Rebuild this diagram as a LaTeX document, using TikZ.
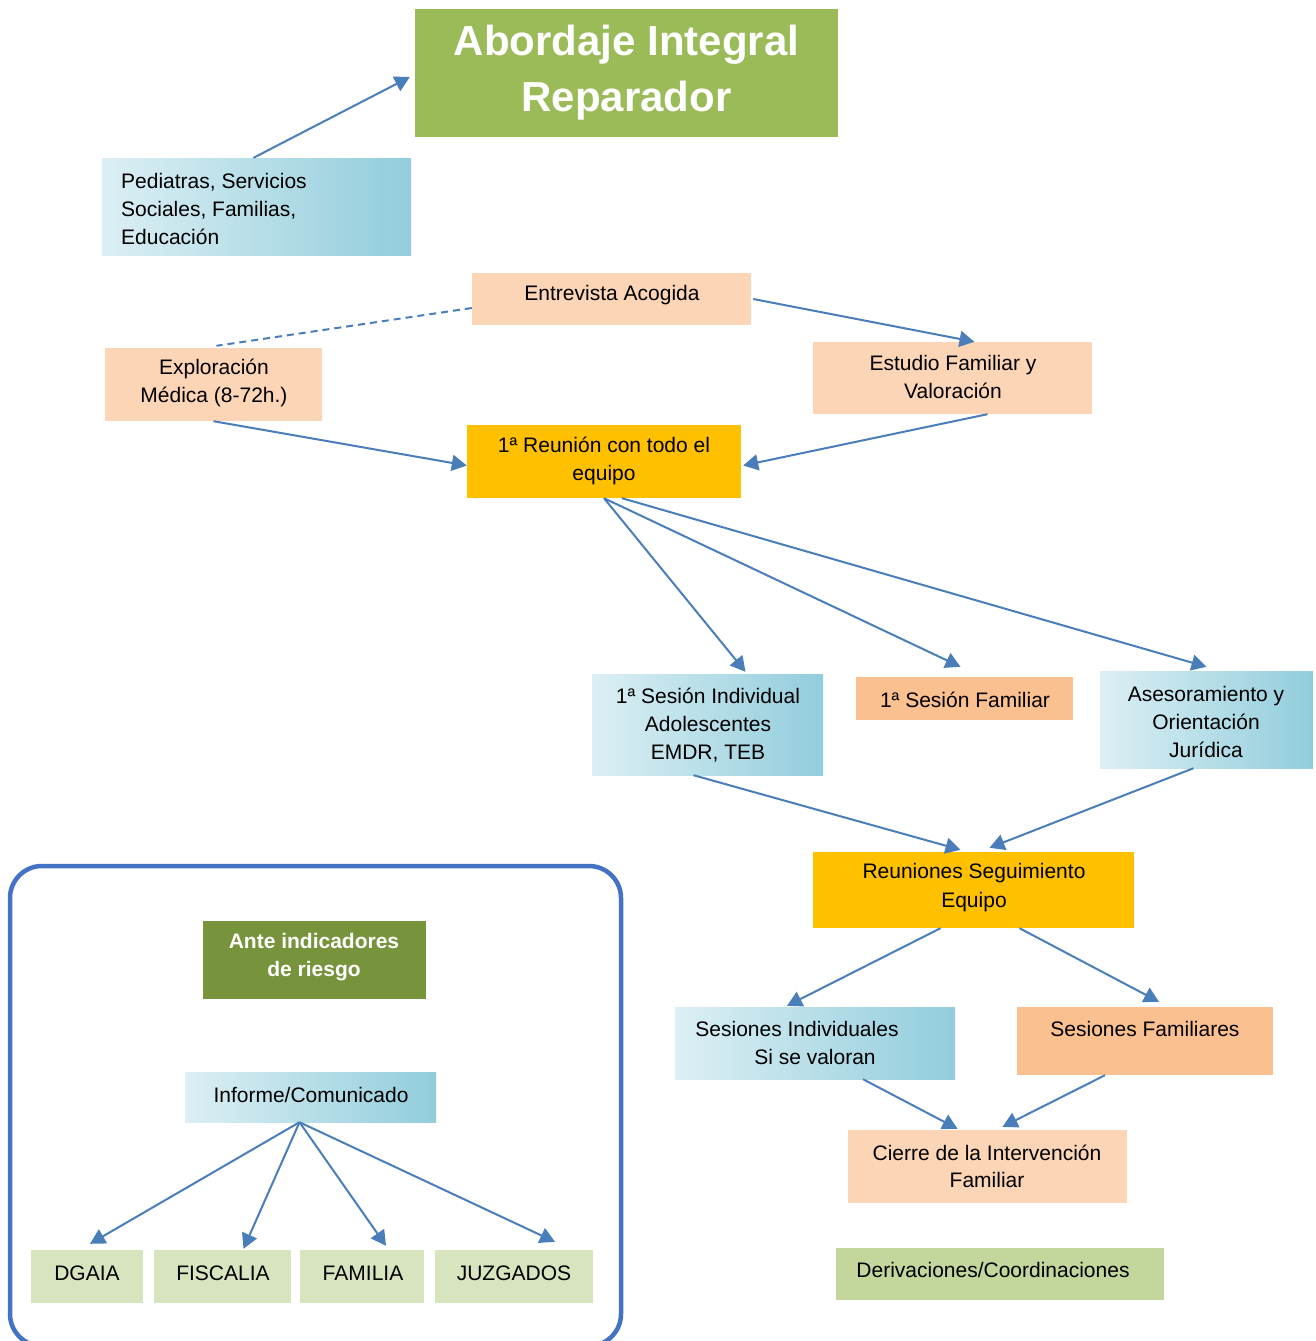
\documentclass[tikz,border=0pt]{standalone}
\usepackage{fontspec}
\setmainfont{Liberation Sans}
\usetikzlibrary{arrows.meta,calc}
\definecolor{titlegreen}{HTML}{9BBB59}
\definecolor{peachlight}{HTML}{FBD5B5}
\definecolor{peachdark}{HTML}{FAC090}
\definecolor{gold}{HTML}{FFC000}
\definecolor{darkgreen}{HTML}{77933C}
\definecolor{lightgreen}{HTML}{D7E4BD}
\definecolor{midgreen}{HTML}{C3D69B}
\definecolor{gradL}{HTML}{DCEFF4}
\definecolor{gradR}{HTML}{92CDDC}
\definecolor{arrowblue}{HTML}{4A7EBB}
\definecolor{framecol}{HTML}{4472C4}
\tikzset{
  box/.style={rectangle, draw=none, inner sep=0pt},
  boxpeach/.style={box, fill=peachlight},
  boxorange/.style={box, fill=peachdark},
  boxgold/.style={box, fill=gold},
  boxgrad/.style={box, shading=axis, shading angle=75, left color=gradL, right color=gradR},
  boxlgreen/.style={box, fill=lightgreen},
  txt/.style={inner sep=0pt, align=center, font=\fontsize{21}{28}\selectfont},
  conn/.style={draw=arrowblue, line width=2pt, -{Triangle[length=15pt,width=16pt]}},
  dashconn/.style={draw=arrowblue, line width=2pt, dashed, dash pattern=on 7pt off 5pt},
}
\begin{document}
\begin{tikzpicture}[x=1pt,y=-1pt]
\useasboundingbox (0,0) rectangle (1316,1341);
\clip (0,0) rectangle (1316,1341);
\fill[white] (0,0) rectangle (1316,1341);

% boxes
\node[box, fill=titlegreen, minimum width=423pt, minimum height=128pt] (title) at (626.5,73) {};
\node[boxgrad, minimum width=309pt, minimum height=97pt] (ped) at (256.5,206.5) {};
\node[boxpeach, minimum width=279pt, minimum height=52pt] (entr) at (611.5,299) {};
\node[boxpeach, minimum width=217pt, minimum height=73pt] (expl) at (213.5,384.5) {};
\node[boxpeach, minimum width=279pt, minimum height=72pt] (est) at (952.5,378) {};
\node[boxgold, minimum width=274pt, minimum height=73pt] (reu) at (604,461.5) {};
\node[boxgrad, minimum width=231pt, minimum height=101pt] (sind) at (707.5,724.5) {};
\node[boxorange, minimum width=217pt, minimum height=43pt] (sfam) at (964.5,698.5) {};
\node[boxgrad, minimum width=213pt, minimum height=97pt] (ase) at (1206.5,719.5) {};
\node[boxgold, minimum width=321pt, minimum height=76pt] (rseg) at (973.5,890) {};
\node[boxgrad, minimum width=280pt, minimum height=72pt] (sesi) at (815,1043) {};
\node[boxorange, minimum width=256pt, minimum height=68pt] (sesf) at (1145,1041) {};
\node[boxpeach, minimum width=279pt, minimum height=73pt] (cie) at (987.5,1166.5) {};
\node[box, fill=midgreen, minimum width=328pt, minimum height=52pt] (der) at (1000,1274) {};
\node[box, fill=darkgreen, minimum width=223pt, minimum height=78pt] (ante) at (314.5,960) {};
\node[boxgrad, minimum width=251pt, minimum height=50pt] (inf) at (310.5,1097) {};
\node[boxlgreen, minimum width=112pt, minimum height=53pt] (dgaia) at (87,1276.5) {};
\node[boxlgreen, minimum width=137pt, minimum height=53pt] (fisc) at (222.5,1276.5) {};
\node[boxlgreen, minimum width=124pt, minimum height=53pt] (fami) at (362,1276.5) {};
\node[boxlgreen, minimum width=158pt, minimum height=53pt] (juz) at (514,1276.5) {};

% frame
\draw[draw=framecol, line width=4.5pt, rounded corners=32pt] (10,866) rectangle (621,1346);

% texts
\node[txt, text=white, font=\fontsize{42}{56}\selectfont\bfseries] (title-t) at (626.5,73) {Abordaje Integral\\Reparador};
\node[txt, anchor=west, align=left] (ped-t) at (121,209) {Pediatras, Servicios\\Sociales, Familias,\\Educación};
\node[txt] (entr-t) at (612,295) {Entrevista Acogida};
\node[txt] (expl-t) at (214,383) {Exploración\\Médica (8-72h.)};
\node[txt] (est-t) at (953,377) {Estudio Familiar y\\Valoración};
\node[txt] (reu-t) at (604,461) {1ª Reunión con todo el\\equipo};
\node[txt] (sind-t) at (708,725) {1ª Sesión Individual\\Adolescentes\\EMDR, TEB};
\node[txt] (sfam-t) at (965,700) {1ª Sesión Familiar};
\node[txt] (ase-t) at (1206,722) {Asesoramiento y\\Orientación\\Jurídica};
\node[txt, font=\fontsize{21}{29}\selectfont] (rseg-t) at (974,888) {Reuniones Seguimiento\\Equipo};
\node[txt] (sesi-t) at (815,1043) {Sesiones Individuales\hspace*{36pt}\\Si se valoran};
\node[txt] (sesf-t) at (1145,1029) {Sesiones Familiares};
\node[txt, font=\fontsize{21}{27}\selectfont] (cie-t) at (987,1166) {Cierre de la Intervención\\Familiar};
\node[txt] (der-t) at (993,1270) {Derivaciones/Coordinaciones};
\node[txt, text=white, font=\fontsize{21}{28}\selectfont\bfseries] (ante-t) at (314,957) {Ante indicadores\\de riesgo};
\node[txt] (inf-t) at (311,1095) {Informe/Comunicado};
\node[txt] (dgaia-t) at (87,1273) {DGAIA};
\node[txt] (fisc-t) at (223,1273) {FISCALIA};
\node[txt] (fami-t) at (363,1273) {FAMILIA};
\node[txt] (juz-t) at (514,1273) {JUZGADOS};

% connectors
\draw[conn] ([xshift=-3pt]ped.north) -- ([xshift=-5pt,yshift=-4pt]title.west);
\draw[dashconn] ([yshift=-9pt]entr.west) -- ([xshift=3pt,yshift=2pt]expl.north);
\draw[conn] ([xshift=2pt]entr.east) -- ([xshift=22pt]est.north);
\draw[conn] (expl.south) -- ([yshift=-4pt]reu.west);
\draw[conn] ([xshift=35pt]est.south) -- ([xshift=2pt,yshift=-4pt]reu.east);
\draw[conn] (reu.south) -- ([xshift=38pt,yshift=2pt]sind.north);
\draw[conn] (reu.south) -- ([xshift=-4pt,yshift=10pt]sfam.north);
\draw[conn] ([xshift=18pt]reu.south) -- ([yshift=4pt]ase.north);
\draw[conn] ([xshift=-14pt]sind.south) -- ([xshift=-13pt,yshift=2pt]rseg.north);
\draw[conn] ([xshift=-13pt]ase.south) -- ([xshift=16pt,yshift=4pt]rseg.north);
\draw[conn] ([xshift=-33pt]rseg.south) -- ([xshift=-28pt,yshift=1pt]sesi.north);
\draw[conn] ([xshift=46pt]rseg.south) -- ([xshift=14pt,yshift=5pt]sesf.north);
\draw[conn] ([xshift=48pt]sesi.south) -- ([xshift=-30pt,yshift=1pt]cie.north);
\draw[conn] ([xshift=-40pt]sesf.south) -- ([xshift=15pt,yshift=3pt]cie.north);
\draw[conn] ([xshift=-11pt]inf.south) -- ([xshift=3pt,yshift=6pt]dgaia.north);
\draw[conn] ([xshift=-11pt]inf.south) -- ([xshift=21pt,yshift=1pt]fisc.north);
\draw[conn] ([xshift=-11pt]inf.south) -- ([xshift=24pt,yshift=4pt]fami.north);
\draw[conn] ([xshift=-11pt]inf.south) -- ([xshift=41pt,yshift=8pt]juz.north);
\end{tikzpicture}
\end{document}
